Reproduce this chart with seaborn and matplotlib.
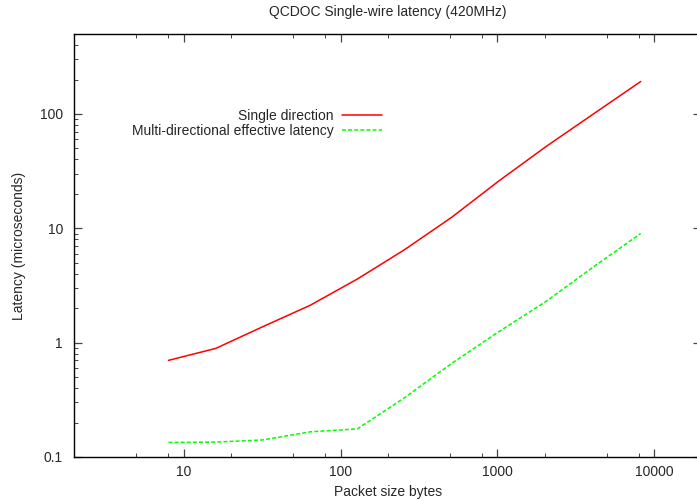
import matplotlib
matplotlib.use("Agg")
import matplotlib.pyplot as plt
import seaborn as sns
import pandas as pd
from matplotlib.ticker import FixedLocator, LogLocator, NullFormatter

# ------------------------------------------------------------
# data (packet size in bytes, latency in us)
# ------------------------------------------------------------
packet_sizes = [8, 16, 32, 64, 128, 256, 512, 1024, 2048, 4096, 8192]
single_direction = [0.70, 0.89, 1.38, 2.12, 3.6, 6.5, 12.5, 26, 52, 100, 192]
multi_directional = [0.134, 0.135, 0.141, 0.166, 0.176, 0.33, 0.66, 1.25, 2.3, 4.6, 9.0]

series_names = ["Single direction", "Multi-directional effective latency"]
x_ticks = [10, 100, 1000, 10000]
x_tick_labels = ["10", "100", "1000", "10000"]
y_ticks = [0.1, 1, 10, 100]
y_tick_labels = ["0.1", "1", "10", "100"]

df = pd.DataFrame({
    "size": packet_sizes * 2,
    "latency": single_direction + multi_directional,
    "series": [series_names[0]] * len(packet_sizes) + [series_names[1]] * len(packet_sizes),
})

sns.set_style("ticks")
plt.rcParams["font.family"] = ["Liberation Sans", "DejaVu Sans"]
plt.rcParams["font.size"] = 10

fig = plt.figure(figsize=(6.97, 5.01), dpi=100)
W, H = 697, 501
left, right, top, bottom = 74, 701.5, 34, 457
ax = fig.add_axes([left / W, 1 - bottom / H, (right - left) / W, (bottom - top) / H])

sns.lineplot(data=df, x="size", y="latency", hue="series", style="series",
             palette=["#ff0000", "#00ff00"], dashes=["", (2.6, 1.4)],
             linewidth=1.1, ax=ax, legend=True)

ax.set_xscale("log")
ax.set_yscale("log")
ax.set_xlim(2, 20000)
ax.set_ylim(0.1, 500)

ax.xaxis.set_major_locator(FixedLocator(x_ticks))
ax.set_xticklabels(x_tick_labels)
ax.xaxis.set_minor_locator(FixedLocator([m * 10 ** e for e in range(0, 5) for m in (2, 5, 8)]))
ax.xaxis.set_minor_formatter(NullFormatter())
ax.yaxis.set_major_locator(FixedLocator(y_ticks))
ax.set_yticklabels(y_tick_labels)
ax.yaxis.set_minor_locator(LogLocator(base=10, subs=range(2, 10)))
ax.yaxis.set_minor_formatter(NullFormatter())

ax.tick_params(which="both", direction="in", top=True, right=True, color="#444444")
ax.tick_params(which="major", length=6, width=0.9, pad=8, labelsize=10)
ax.tick_params(which="minor", length=3, width=0.7)
ax.tick_params(axis="x", which="major", pad=6)
for sp in ax.spines.values():
    sp.set_color("black")
    sp.set_linewidth(1.0)

ax.set_title("QCDOC Single-wire latency (420MHz)", fontsize=10, pad=13)
ax.set_xlabel("Packet size bytes", fontsize=10, labelpad=4)
ax.set_ylabel("Latency (microseconds)", fontsize=10, labelpad=10)

handles, labels = ax.get_legend_handles_labels()
ax.legend(handles, labels, loc="upper right", markerfirst=False, frameon=False,
          bbox_to_anchor=(382 / W, 1 - 109 / H), bbox_transform=fig.transFigure,
          borderpad=0, borderaxespad=0, labelspacing=0.05, handlelength=2.9,
          handletextpad=0.6, fontsize=10)

fig.savefig("out.png", dpi=100)
